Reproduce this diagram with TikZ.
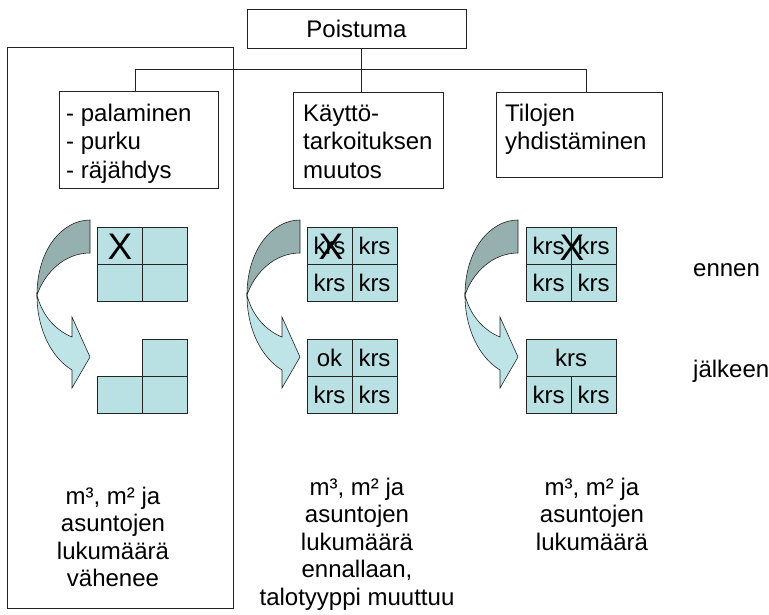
\documentclass[tikz,border=0pt]{standalone}
\usepackage{fontspec}
\setmainfont{Liberation Sans}
\usetikzlibrary{calc}
\definecolor{gridfill}{RGB}{185,224,227}
\definecolor{arrlight}{RGB}{190,228,231}
\definecolor{arrdark}{RGB}{150,176,176}
\definecolor{linec}{RGB}{35,35,35}
\newcommand\myCurvedArrow{%
  \filldraw[fill=arrdark, draw=linec, line width=0.6pt]
    (90,220) .. controls (62,220) and (37,250) .. (37,295)
    .. controls (45,272) and (65,253) .. (90,253) -- cycle;
  \filldraw[fill=arrlight, draw=linec, line width=0.6pt]
    (37,295) .. controls (37,330) and (52,358) .. (72,370)
    -- (72,388) -- (90,357) -- (72,317) -- (72,337)
    .. controls (55,330) and (42,315) .. (37,295) -- cycle;}
\begin{document}
\begin{tikzpicture}[x=1pt,y=-1pt,
  box/.style={draw=linec, line width=0.8pt, inner sep=0pt},
  conn/.style={draw=linec, line width=0.8pt},
  txt/.style={inner sep=0pt, font=\fontsize{24}{28.5}\selectfont, align=left, anchor=north west},
  btxt/.style={inner sep=0pt, font=\fontsize{24}{27.5}\selectfont, align=center, anchor=north},
  cell/.style={draw=linec, line width=0.8pt, fill=gridfill, inner sep=0pt, minimum width=45, minimum height=37, font=\fontsize{24}{28}\selectfont},
  xmark/.style={inner sep=0pt, font=\fontsize{37}{40}\selectfont},
  side/.style={inner sep=0pt, anchor=west, font=\fontsize{24}{28}\selectfont},
]
\useasboundingbox (0,0) rectangle (769,614);

% outer frame of first column
\node[box, minimum width=226, minimum height=561] (outer) at (120,327.5) {};

% connectors
\coordinate (hl) at (135,69);
\coordinate (hr) at (586,69);
\coordinate (hm) at (361,69);

% boxes
\node[box, minimum width=219, minimum height=39, font=\fontsize{24}{28}\selectfont] (poist) at (356.5,28.5) {Poistuma};
\node[box, minimum width=159, minimum height=97] (b1) at (138.5,139.5) {};
\node[box, minimum width=150, minimum height=96] (b2) at (368,140) {};
\node[box, minimum width=166, minimum height=85] (b3) at (579,134.5) {};

\draw[conn] (b1.north -| hl) -- (hl) -- (hr) -- (b3.north -| hr);
\draw[conn] (poist.south -| hm) -- (b2.north -| hm);

\node[txt] (t1) at (66,101) {\strut- palaminen\\\strut- purku\\\strut- räjähdys};
\node[txt] (t2) at (303,101) {\strut Käyttö-\\\strut tarkoituksen\\\strut muutos};
\node[txt] (t3) at (505,101) {\strut Tilojen\\\strut yhdistäminen};

% curved arrows
\begin{scope}\myCurvedArrow\end{scope}
\begin{scope}[xshift=210pt]\myCurvedArrow\end{scope}
\begin{scope}[xshift=428pt]\myCurvedArrow\end{scope}

% column 1 grids
\node[cell] (a1) at (119.5,245.5) {};
\node[cell] (a2) at (164.5,245.5) {};
\node[cell] (a3) at (119.5,282.5) {};
\node[cell] (a4) at (164.5,282.5) {};
\node[xmark] (ax) at (120,247) {X};
\node[cell] (a5) at (164.5,357.5) {};
\node[cell] (a6) at (119.5,394.5) {};
\node[cell] (a7) at (164.5,394.5) {};

% column 2 grids
\node[cell] (c1) at (329.5,245.5) {krs};
\node[cell] (c2) at (374.5,245.5) {krs};
\node[cell] (c3) at (329.5,282.5) {krs};
\node[cell] (c4) at (374.5,282.5) {krs};
\node[xmark] (cx) at (331,247) {X};
\node[cell] (c5) at (329.5,357.5) {ok};
\node[cell] (c6) at (374.5,357.5) {krs};
\node[cell] (c7) at (329.5,394.5) {krs};
\node[cell] (c8) at (374.5,394.5) {krs};

% column 3 grids
\node[cell] (d1) at (548.5,245.5) {krs};
\node[cell] (d2) at (593.5,245.5) {krs};
\node[cell] (d3) at (548.5,282.5) {krs};
\node[cell] (d4) at (593.5,282.5) {krs};
\node[xmark] (dx) at (572,248) {X};
\node[cell, minimum width=90] (d5) at (571,357.5) {krs};
\node[cell] (d6) at (548.5,394.5) {krs};
\node[cell] (d7) at (593.5,394.5) {krs};

% side labels
\node[side] (en) at (693,270) {ennen};
\node[side] (jl) at (693,371) {jälkeen};

% bottom texts
\node[btxt] (m1) at (113,485) {\strut m³, m² ja\\\strut asuntojen\\\strut lukumäärä\\\strut vähenee};
\node[btxt] (m2) at (357,476) {\strut m³, m² ja\\\strut asuntojen\\\strut lukumäärä\\\strut ennallaan,\\\strut talotyyppi muuttuu};
\node[btxt] (m3) at (592,476) {\strut m³, m² ja\\\strut asuntojen\\\strut lukumäärä};
\end{tikzpicture}
\end{document}
